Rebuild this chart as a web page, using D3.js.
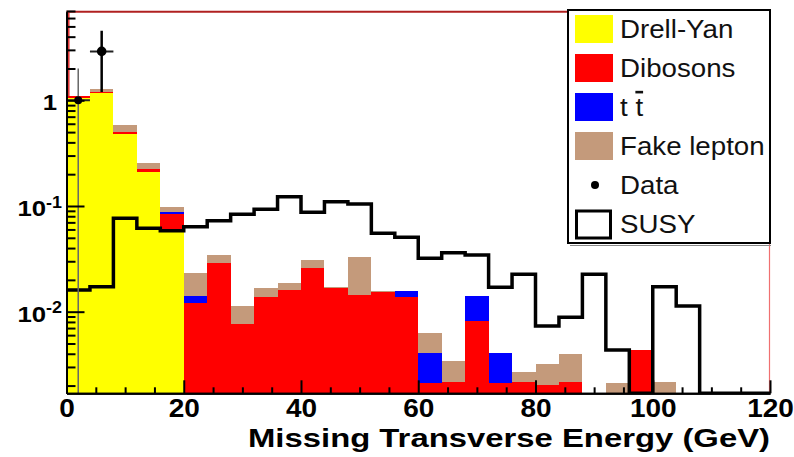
<!DOCTYPE html>
<html><head><meta charset="utf-8">
<script src="https://cdn.jsdelivr.net/npm/d3@7"></script>
<style>body{margin:0;background:#fff}svg{display:block}</style>
</head><body>
<script>
// ---- data (4 GeV bins) ----
const binLow = [0,4,8,12,16,20,24,28,32,36,40,44,48,52,56,60,64,68,72,76,80,84,88,92,96,100,104,108,112,116];
const drellYan = [1.06,1.16,0.475,0.21,0.060,0,0,0,0,0,0,0,0,0,0,0,0,0,0,0,0,0,0,0,0,0,0,0,0,0];
const dibosons = [0.03,0.04,0.03,0.014,0.024,0.0120,0.0287,0.0076,0.0139,0.0160,0.0257,0.0168,0.0144,0.0153,0.0137,0.00213,0.00218,0.00822,0.00213,0.00218,0.00203,0.00218,0,0,0.00434,0,0,0,0,0];
const ttbar = [0,0,0,0,0.004,0.0021,0,0,0,0,0,0,0,0,0.0021,0.00191,0,0.00585,0.00196,0,0,0,0,0,0,0,0,0,0,0];
const fakeLepton = [0.015,0.07,0.08,0.03,0.009,0.0090,0.0057,0.0038,0.0030,0.0028,0.0051,0.0004,0.0183,0.0003,0,0.00229,0.00126,0,0,0.00053,0.00117,0.0018,0,0.0021,0,0.00218,0,0,0,0];
const susy = [0.0160,0.0172,0.0765,0.0615,0.0584,0.0637,0.0726,0.0834,0.0931,0.1225,0.0872,0.1098,0.1045,0.0552,0.0506,0.0320,0.0361,0.0344,0.0170,0.0226,0.00733,0.00886,0.0226,0.00434,0,0.0172,0.0113,0,0,0];
const dataX = [2, 6];
const dataY = [1.0, 2.9];
const dataHigh = [2.0, 4.55];
const dataLow = [0, 1.2];
const xMajorTicks = [0,20,40,60,80,100,120];
const xMinorTicks = [5,10,15,25,30,35,45,50,55,65,70,75,85,90,95,105,110,115];
const yMajorTicks = [1,0.1,0.01];
const yMajorLabels = [["1",""],["10","-1"],["10","-2"]];
const yMinorTicks = [7,6,5,4,3,2,0.9,0.8,0.7,0.6,0.5,0.4,0.3,0.2,0.09,0.08,0.07,0.06,0.05,0.04,0.03,0.02,0.009,0.008,0.007,0.006,0.005,0.004,0.003,0.002];
const legendLabels = ["Drell-Yan","Dibosons","t t","Fake lepton","Data","SUSY"];
const xTitle = "Missing Transverse Energy (GeV)";

// ---- styles ----
const cYellow="#ffff00", cRed="#ff0000", cBlue="#0000ff", cBrown="#c49a7b";
const font = "'Liberation Sans', Arial, Helvetica, sans-serif";

const W=794,H=457;
const L=66.5, R=770, T=11.7, B=393.3;
const binW = 4;
const x = d3.scaleLinear().domain([0,120]).range([L,R]);
const y = d3.scaleLog().domain([0.00169, 6.89]).range([B,T]);
const yv = v => v>0 ? y(v) : B;

const svg = d3.select("body").append("svg").attr("width",W).attr("height",H)
  .style("font-family", font);

svg.append("defs").append("clipPath").attr("id","plotclip")
  .append("rect").attr("x",L).attr("y",T).attr("width",R-L).attr("height",B-T);

// frame (red)
svg.append("line").attr("x1",L).attr("x2",R).attr("y1",T).attr("y2",T).attr("stroke","#b02020").attr("stroke-width",2);
svg.append("line").attr("x1",L+2.3).attr("x2",L+2.3).attr("y1",T).attr("y2",B).attr("stroke","#e03030").attr("stroke-width",1.5);
svg.append("line").attr("x1",R-0.5).attr("x2",R-0.5).attr("y1",T).attr("y2",B).attr("stroke","#f07070").attr("stroke-width",1.2);

// stacks
const c1 = drellYan.slice();
const c2 = c1.map((v,i)=>v+dibosons[i]);
const c3 = c2.map((v,i)=>v+ttbar[i]);
const c4 = c3.map((v,i)=>v+fakeLepton[i]);
const layers = [{vals:c4,color:cBrown},{vals:c3,color:cBlue},{vals:c2,color:cRed},{vals:c1,color:cYellow}];
const plot = svg.append("g").attr("clip-path","url(#plotclip)");
layers.forEach(layer=>{
  plot.append("g").selectAll("rect")
    .data(binLow.map((lo,i)=>({lo, v:layer.vals[i]})).filter(d=>d.v>0))
    .join("rect")
    .attr("x",d=>x(d.lo)).attr("width",d=>x(d.lo+binW)-x(d.lo))
    .attr("y",d=>y(d.v)).attr("height",d=>B-y(d.v))
    .attr("fill",layer.color).attr("shape-rendering","crispEdges");
});

// SUSY step line
const pts = binLow.map((lo,i)=>[x(lo), yv(susy[i])]);
pts.push([x(120), yv(susy[susy.length-1])]);
plot.append("path").attr("d", d3.line().curve(d3.curveStepAfter)(pts))
  .attr("fill","none").attr("stroke","#000").attr("stroke-width",3.5);

// data points
dataX.forEach((dx,i)=>{
  const g = plot.append("g");
  g.append("line").attr("x1",x(dx)).attr("x2",x(dx))
    .attr("y1",y(dataHigh[i])).attr("y2",yv(dataLow[i]))
    .attr("stroke", i===0 ? "#666" : "#000").attr("stroke-width", i===0 ? 1.5 : 2.5);
  g.append("line").attr("x1",x(dx-binW/2)).attr("x2",x(dx+binW/2))
    .attr("y1",y(dataY[i])).attr("y2",y(dataY[i]))
    .attr("stroke","#222").attr("stroke-width",2);
  g.append("circle").attr("cx",x(dx)).attr("cy",y(dataY[i])).attr("r", i===0?4:4.8).attr("fill","#000");
});

// axes
const styleAxis = g => {
  g.select(".domain").attr("stroke","#000").attr("stroke-width",2);
  g.selectAll(".tick line").attr("stroke","#000").attr("stroke-width",2);
};
const xMajor = svg.append("g").attr("transform",`translate(0,${B})`)
  .call(d3.axisBottom(x).tickValues(xMajorTicks).tickSize(-13).tickSizeOuter(0).tickPadding(6).tickFormat(d3.format("d")))
  .call(styleAxis);
xMajor.selectAll("text").attr("font-family",font).attr("font-size",25).attr("font-weight","bold")
  .attr("fill","#000").attr("transform","scale(1.12,1)");
svg.append("g").attr("transform",`translate(0,${B})`)
  .call(d3.axisBottom(x).tickValues(xMinorTicks).tickSize(-6).tickSizeOuter(0).tickFormat(""))
  .call(styleAxis);

svg.append("g").attr("transform",`translate(${L},0)`)
  .call(d3.axisLeft(y).tickValues(yMajorTicks).tickSize(-18).tickSizeOuter(0).tickFormat(""))
  .call(styleAxis);
svg.append("g").attr("transform",`translate(${L},0)`)
  .call(d3.axisLeft(y).tickValues(yMinorTicks).tickSize(-9).tickSizeOuter(0).tickFormat(""))
  .call(styleAxis);

// y labels
yMajorTicks.forEach((t,i)=>{
  const [base, sup] = yMajorLabels[i];
  const tx = svg.append("text")
    .attr("transform",`translate(${sup? 62 : 57},${y(t)+10}) scale(1.12,1)`)
    .attr("text-anchor","end").attr("font-weight","bold").attr("font-size",23).attr("fill","#000");
  tx.append("tspan").text(base);
  if (sup) tx.append("tspan").attr("dy",-8.5).attr("font-size",16).text(sup);
});

// x title
svg.append("text").attr("x",248).attr("y",447).attr("font-weight","bold").attr("font-size",26)
  .attr("textLength",522).attr("lengthAdjust","spacingAndGlyphs").attr("fill","#000").text(xTitle);

// legend
const lg = svg.append("g");
lg.append("rect").attr("x",568).attr("y",10).attr("width",202).attr("height",233)
  .attr("fill","#fff").attr("stroke","#000").attr("stroke-width",2);
lg.append("line").attr("x1",570).attr("x2",771).attr("y1",245.5).attr("y2",245.5).attr("stroke","#888").attr("stroke-width",1.2);
const swatchColors = [cYellow,cRed,cBlue,cBrown];
legendLabels.forEach((lab,i)=>{
  const by = 38 + i*39;
  if (i<4) {
    lg.append("rect").attr("x",575).attr("y",by-23).attr("width",38).attr("height",28).attr("fill",swatchColors[i]);
  } else if (i===4) {
    lg.append("circle").attr("cx",595).attr("cy",by-9).attr("r",4).attr("fill","#000");
  } else {
    lg.append("rect").attr("x",576.5).attr("y",by-22).attr("width",34).attr("height",27)
      .attr("fill","none").attr("stroke","#000").attr("stroke-width",3);
  }
  const t = lg.append("text").attr("transform",`translate(620,${by}) scale(1.065,1)`)
    .attr("font-size",26).attr("fill","#111");
  if (lab === "t t") {
    t.append("tspan").text("t ");
    t.append("tspan").style("text-decoration","overline").text("t");
  } else {
    t.text(lab);
  }
});
</script>
</body></html>
